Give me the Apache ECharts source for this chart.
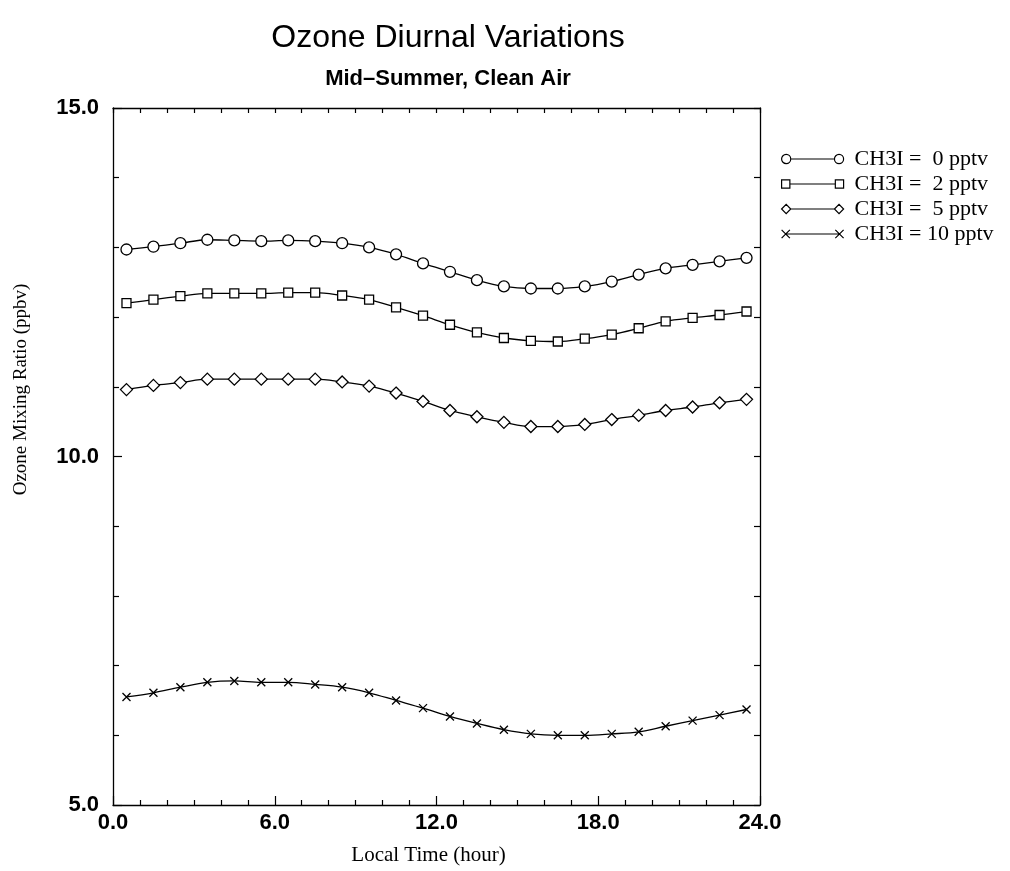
<!DOCTYPE html>
<html>
<head>
<meta charset="utf-8">
<script src="https://cdn.jsdelivr.net/npm/echarts@6/dist/echarts.min.js"></script>
<style>
  html, body { margin: 0; padding: 0; background: #fff; }
  #chart { width: 1010px; height: 871px; }
</style>
</head>
<body>
<div id="chart"></div>
<script>
// local time (hour)
var hours = [0.5, 1.5, 2.5, 3.5, 4.5, 5.5, 6.5, 7.5, 8.5, 9.5, 10.5, 11.5,
  12.5, 13.5, 14.5, 15.5, 16.5, 17.5, 18.5, 19.5, 20.5, 21.5, 22.5, 23.5];

// ozone mixing ratio (ppbv) for each CH3I level
var ch3i0 = [12.97, 13.01, 13.06, 13.11, 13.10, 13.09, 13.10, 13.09, 13.06, 13.00, 12.90, 12.77,
  12.65, 12.53, 12.44, 12.41, 12.41, 12.44, 12.51, 12.61, 12.70, 12.75, 12.80, 12.85];
var ch3i2 = [12.20, 12.25, 12.30, 12.34, 12.34, 12.34, 12.35, 12.35, 12.31, 12.25, 12.14, 12.02,
  11.89, 11.78, 11.70, 11.66, 11.65, 11.69, 11.75, 11.84, 11.94, 11.99, 12.03, 12.08];
var ch3i5 = [10.96, 11.02, 11.06, 11.11, 11.11, 11.11, 11.11, 11.11, 11.07, 11.01, 10.91, 10.79,
  10.66, 10.57, 10.49, 10.43, 10.43, 10.46, 10.53, 10.59, 10.66, 10.71, 10.77, 10.82];
var ch3i10 = [6.55, 6.61, 6.69, 6.76, 6.78, 6.76, 6.76, 6.73, 6.69, 6.61, 6.50, 6.39,
  6.27, 6.17, 6.08, 6.02, 6.00, 6.00, 6.02, 6.05, 6.13, 6.21, 6.29, 6.37];

var seriesNames = ['CH3I =  0 pptv', 'CH3I =  2 pptv', 'CH3I =  5 pptv', 'CH3I = 10 pptv'];

function pairs(ys) {
  return hours.map(function (h, i) { return [h, ys[i]]; });
}

// symbols used on the curves
var crossPath = 'path://M0,0L10,10M0,10L10,0';
// legend icons: marker - line - marker
var legendIcons = [
  'path://M0.5,5A4.5,4.5 0 1,1 9.5,5A4.5,4.5 0 1,1 0.5,5ZM9.5,5L52.5,5M52.5,5A4.5,4.5 0 1,1 61.5,5A4.5,4.5 0 1,1 52.5,5Z',
  'path://M1,1L9,1L9,9L1,9ZM9,5L53,5M53,1L61,1L61,9L53,9Z',
  'path://M0.5,5L5,0.5L9.5,5L5,9.5ZM9.5,5L52.5,5M52.5,5L57,0.5L61.5,5L57,9.5Z',
  'path://M1,1L9,9M1,9L9,1M5,5L57,5M53,1L61,9M53,9L61,1'
];

var serif = '"Liberation Serif", "DejaVu Serif", serif';
var sans = '"Liberation Sans", Arial, sans-serif';

var chart = echarts.init(document.getElementById('chart'));

var tickStyle = { color: '#000', width: 1.2 };
var axisLineStyle = { show: true, onZero: false, lineStyle: { color: '#000', width: 1.3 } };

function mkSeries(name, ys, symbol, size) {
  return {
    name: name,
    type: 'line',
    data: pairs(ys),
    smooth: 0.35,
    symbol: symbol,
    symbolSize: size,
    lineStyle: { color: '#000', width: 1.3 },
    itemStyle: { color: '#fff', borderColor: '#000', borderWidth: 1.3 },
    emphasis: { disabled: true }
  };
}

chart.setOption({
  animation: false,
  backgroundColor: '#fff',
  title: [
    {
      text: 'Ozone Diurnal Variations',
      left: 443, textAlign: 'center', top: 17,
      textStyle: { fontFamily: sans, fontSize: 32, fontWeight: 'normal', color: '#000' }
    },
    {
      text: 'Mid\u2013Summer, Clean Air',
      left: 443, textAlign: 'center', top: 63,
      textStyle: { fontFamily: sans, fontSize: 22, fontWeight: 'bold', color: '#000' }
    }
  ],
  legend: {
    orient: 'vertical',
    left: 776,
    top: 143,
    itemWidth: 62,
    itemHeight: 10,
    itemGap: 3,
    selectedMode: false,
    itemStyle: { color: '#fff', borderColor: '#000', borderWidth: 1.2 },
    textStyle: { fontFamily: serif, fontSize: 22, color: '#000', padding: [0, 0, 0, 6] },
    data: seriesNames.map(function (n, i) { return { name: n, icon: legendIcons[i] }; })
  },
  grid: { left: 113, right: 250, top: 108, bottom: 65 },
  xAxis: [
    {
      type: 'value', min: 0, max: 24, interval: 6,
      name: 'Local Time (hour)', nameLocation: 'middle', nameGap: 40,
      nameTextStyle: { fontFamily: serif, fontSize: 21, color: '#000', padding: [0, 16, 0, 0] },
      axisLine: axisLineStyle,
      axisTick: { inside: true, length: 9, lineStyle: tickStyle },
      minorTick: { show: true, splitNumber: 6, length: 5, lineStyle: tickStyle },
      axisLabel: {
        fontFamily: sans, fontSize: 22, fontWeight: 'bold', color: '#000', margin: 7,
        formatter: function (v) { return v.toFixed(1); }
      },
      splitLine: { show: false }
    },
    {
      type: 'value', min: 0, max: 24, interval: 6, position: 'top',
      axisLine: axisLineStyle,
      axisTick: { inside: true, length: 5, lineStyle: tickStyle },
      minorTick: { show: true, splitNumber: 6, length: 5, lineStyle: tickStyle },
      axisLabel: { show: false },
      splitLine: { show: false }
    }
  ],
  yAxis: [
    {
      type: 'value', min: 5, max: 15, interval: 5,
      name: 'Ozone Mixing Ratio (ppbv)', nameLocation: 'middle', nameGap: 82,
      nameTextStyle: { fontFamily: serif, fontSize: 19, color: '#000', padding: [0, 0, 0, 134] },
      axisLine: axisLineStyle,
      axisTick: { show: true, inside: true, length: 9, lineStyle: tickStyle },
      minorTick: { show: true, splitNumber: 5, length: 6, lineStyle: tickStyle },
      axisLabel: {
        fontFamily: sans, fontSize: 22, fontWeight: 'bold', color: '#000', margin: 14,
        formatter: function (v) { return v.toFixed(1); }
      },
      splitLine: { show: false }
    },
    {
      type: 'value', min: 5, max: 15, interval: 5, position: 'right',
      axisLine: axisLineStyle,
      axisTick: { show: true, inside: true, length: 6, lineStyle: tickStyle },
      minorTick: { show: true, splitNumber: 5, length: 6, lineStyle: tickStyle },
      axisLabel: { show: false },
      splitLine: { show: false }
    }
  ],
  series: [
    mkSeries(seriesNames[0], ch3i0, 'circle', 11),
    mkSeries(seriesNames[1], ch3i2, 'rect', 9),
    mkSeries(seriesNames[2], ch3i5, 'diamond', 12),
    mkSeries(seriesNames[3], ch3i10, crossPath, 8)
  ]
});
</script>
</body>
</html>
